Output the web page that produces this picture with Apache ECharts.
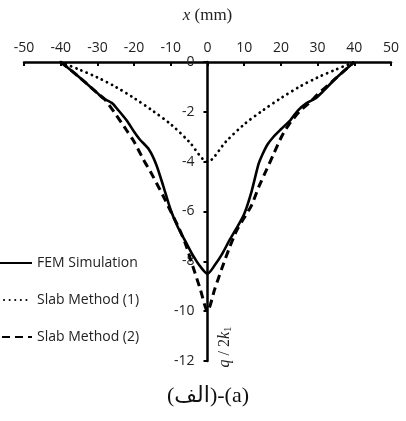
<!DOCTYPE html>
<html>
<head>
<meta charset="utf-8">
<script src="https://cdn.jsdelivr.net/npm/echarts@6/dist/echarts.min.js"></script>
<style>html,body{margin:0;padding:0;background:#fff;}#c{width:406px;height:421px;}</style>
</head>
<body>
<div id="c"></div>
<script>
// ---- data ----
const xTicks = [-50, -40, -30, -20, -10, 0, 10, 20, 30, 40, 50];
const yTicks = [0, -2, -4, -6, -8, -10, -12];

const femX = [-40, -35, -30, -28.5, -26, -24.5, -22, -20, -18.5, -16, -14, -12, -10, -8, -6, -4, -2, 0,
              2, 4, 6, 8, 10, 12, 13.9, 15, 16.4, 18, 20, 22.6, 24.6, 27, 29.5, 31, 35, 40];
const femQ = [0, -0.6, -1.25, -1.45, -1.65, -1.9, -2.35, -2.8, -3.1, -3.5, -4.1, -5.0, -5.95, -6.65, -7.2, -7.75, -8.2, -8.5,
              -8.15, -7.7, -7.15, -6.65, -6.1, -5.2, -4.1, -3.7, -3.3, -3.0, -2.7, -2.33, -1.95, -1.65, -1.45, -1.25, -0.65, 0];

const slab1X = [-40, -35, -30, -25, -20, -15, -10, -5, 0, 5, 10, 15, 20, 25, 30, 35, 40];
const slab1Q = [0, -0.3, -0.62, -1.0, -1.45, -1.95, -2.5, -3.2, -4.0, -3.2, -2.5, -1.95, -1.45, -1.0, -0.62, -0.3, 0];

const slab2X = [-40, -35, -30, -28, -25, -22, -20, -17.5, -15, -12, -10, -8, -6, -4, -2, 0,
                2, 4, 6, 8, 10, 12, 14, 16, 18, 20, 22, 25, 28, 30, 35, 40];
const slab2Q = [0, -0.6, -1.25, -1.5, -2.1, -2.75, -3.2, -3.9, -4.55, -5.4, -6.0, -6.6, -7.3, -8.2, -9.1, -10.0,
                -9.1, -8.25, -7.45, -6.75, -6.25, -5.75, -5.0, -4.35, -3.7, -3.05, -2.55, -2.0, -1.6, -1.3, -0.65, 0];

const seriesNames = ['FEM Simulation', 'Slab Method (1)', 'Slab Method (2)'];
const caption = '(الف)-(a)';

function pairs(xs, ys) { return xs.map((x, i) => [x, ys[i]]); }

const chart = echarts.init(document.getElementById('c'));
const tickFont = { fontFamily: 'Open Sans', fontSize: 14, color: '#222' };

const gridLeft = 24, gridRight = 15;
const plotW = 406 - gridLeft - gridRight;
// y axis sits at x = 0 of the x scale (middle of -50..50)
const yAxisOffset = -plotW * (0 - (-50)) / 100;

chart.setOption({
  animation: false,
  backgroundColor: '#fff',
  grid: { left: gridLeft, right: gridRight, top: 62, bottom: 60, containLabel: false, outerBoundsMode: 'none' },
  legend: {
    orient: 'vertical',
    left: -30,
    top: 251,
    itemWidth: 56,
    itemHeight: 14,
    itemGap: 23,
    data: seriesNames,
    itemStyle: { color: 'transparent', borderColor: 'transparent', borderWidth: 0, opacity: 0 },
    textStyle: { fontFamily: 'Open Sans', fontSize: 14, color: '#222' }
  },
  xAxis: {
    type: 'value',
    position: 'top',
    min: -50, max: 50, interval: 10,
    name: '{i|x} (mm)',
    nameLocation: 'middle',
    nameGap: 38,
    nameTextStyle: {
      fontFamily: 'Liberation Serif', fontSize: 17, color: '#222',
      rich: { i: { fontFamily: 'Liberation Serif', fontStyle: 'italic', fontSize: 17, color: '#222' } }
    },
    axisLine: { onZero: false, lineStyle: { color: '#000', width: 2.5 } },
    axisTick: { inside: true, length: 4, lineStyle: { color: '#000', width: 2 } },
    axisLabel: Object.assign({ margin: 7, formatter: v => String(v) }, tickFont),
    splitLine: { show: false }
  },
  yAxis: {
    type: 'value',
    position: 'left',
    offset: yAxisOffset,
    min: -12, max: 0, interval: 2,
    axisLine: { onZero: false, lineStyle: { color: '#000', width: 2.5 } },
    axisTick: { length: 4, lineStyle: { color: '#000', width: 2 } },
    axisLabel: Object.assign({ margin: 13, formatter: v => String(v) }, tickFont),
    splitLine: { show: false }
  },
  series: [
    {
      name: seriesNames[0], type: 'line', symbol: 'none', smooth: 0.25,
      data: pairs(femX, femQ),
      lineStyle: { color: '#000', width: 2.6, type: 'solid' },
      itemStyle: { color: '#000' }, z: 3
    },
    {
      name: seriesNames[1], type: 'line', symbol: 'none', smooth: 0.3,
      data: pairs(slab1X, slab1Q),
      lineStyle: { color: '#000', width: 2.8, type: [0.1, 5.5], cap: 'round' },
      itemStyle: { color: '#000' }, z: 2
    },
    {
      name: seriesNames[2], type: 'line', symbol: 'none', smooth: 0.25,
      data: pairs(slab2X, slab2Q),
      lineStyle: { color: '#000', width: 3, type: [8, 5] },
      itemStyle: { color: '#000' }, z: 2
    }
  ],
  graphic: [
    {
      type: 'text',
      x: 225, y: 347,
      rotation: Math.PI / 2,
      style: {
        text: '{i|q} / 2{i|k}{s|1}',
        align: 'center', verticalAlign: 'middle',
        fill: '#222',
        font: '16px "Liberation Serif"',
        rich: {
          i: { fontFamily: 'Liberation Serif', fontStyle: 'italic', fontSize: 16, fill: '#222' },
          s: { fontFamily: 'Liberation Serif', fontSize: 11, fill: '#222', verticalAlign: 'bottom', padding: [6, 0, 0, 0] }
        }
      }
    },
    {
      type: 'text',
      x: 208, y: 396,
      style: {
        text: caption,
        align: 'center', verticalAlign: 'middle',
        fill: '#111',
        font: '22px "Liberation Serif", "DejaVu Sans"'
      }
    }
  ]
});
</script>
</body>
</html>
